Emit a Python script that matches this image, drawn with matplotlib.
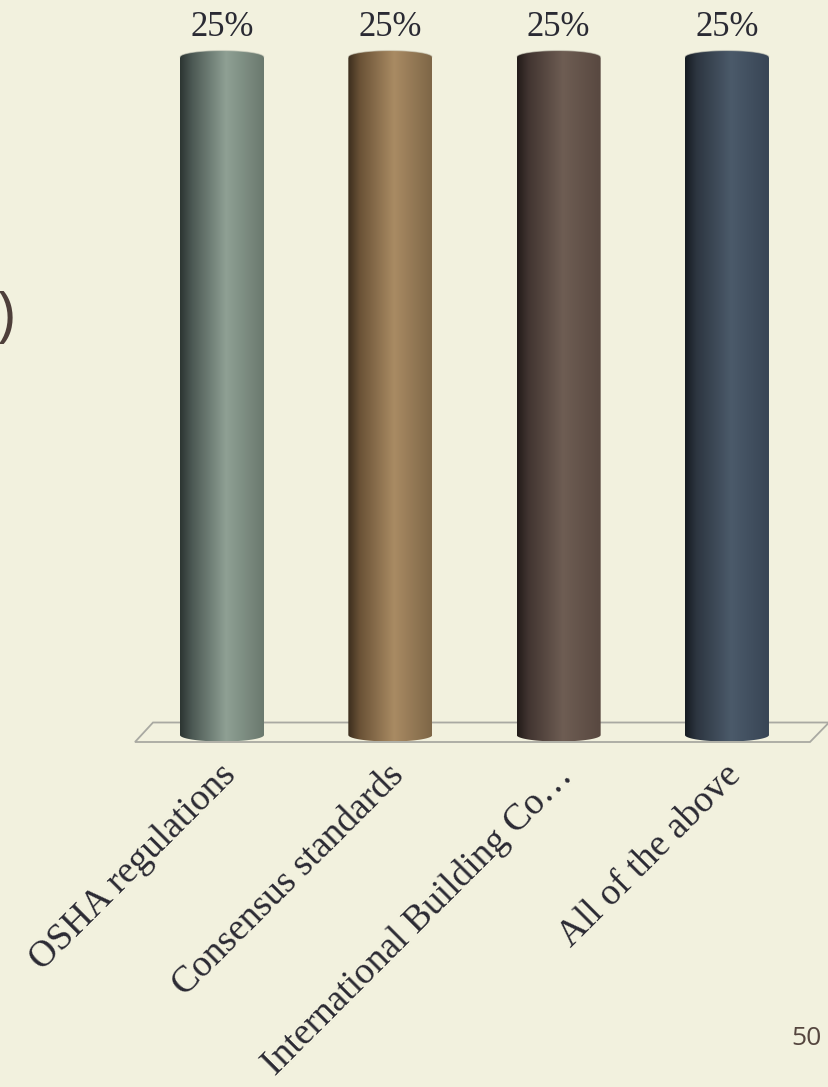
import numpy as np
import matplotlib
matplotlib.use("Agg")
import matplotlib.pyplot as plt
from matplotlib.path import Path
from matplotlib.patches import PathPatch, Polygon
from matplotlib.colors import LinearSegmentedColormap

# ---- data ----
categories = ["OSHA regulations", "Consensus standards",
              "International Building Co…", "All of the above"]
values = [25, 25, 25, 25]
value_labels = ["25%", "25%", "25%", "25%"]
bar_colors = [
    ["#2c3532", "#4b5853", "#8fa094", "#6a796e"],
    ["#3b2d1e", "#6a5236", "#a98b63", "#7e6647"],
    ["#221b19", "#423531", "#6e5d53", "#584840"],
    ["#161b21", "#2d3641", "#4b5a6a", "#384555"],
]
page_number = "50"

BG = "#f2f1de"
W, H = 829, 1087

# pixel <-> data helpers (layout only)
X0, DX = 222.0, 168.33
Y0, K = 735.0, (735.0 - 57.0) / 25.0


def px2x(px):
    return (px - X0) / DX


def px2y(py):
    return (Y0 - py) / K


fig = plt.figure(figsize=(W / 100, H / 100), dpi=100, facecolor=BG)
ax = fig.add_axes([0, 0, 1, 1])
ax.set_facecolor(BG)
ax.axis("off")
ax.set_xlim(px2x(0), px2x(W))
ax.set_ylim(px2y(H), px2y(0))

# floor parallelogram
floor = Polygon([(px2x(135), px2y(742)), (px2x(810), px2y(742)),
                 (px2x(829), px2y(722.5)), (px2x(153), px2y(722.5))],
                closed=True, facecolor="none", edgecolor="#a9a9a2", lw=1.3, zorder=1)
ax.add_patch(floor)

half_w = 42.0 / DX
eh = 6.5 / K
grad = np.linspace(0, 1, 256).reshape(1, -1)

for i, (v, cols) in enumerate(zip(values, bar_colors)):
    cmap = LinearSegmentedColormap.from_list(
        f"c{i}", list(zip([0.0, 0.14, 0.55, 1.0], cols)))
    xl, xr = i - half_w, i + half_w
    t1 = np.linspace(np.pi, 2 * np.pi, 60)  # bottom half
    t2 = np.linspace(0, np.pi, 60)  # top half
    bx = i + half_w * np.cos(t1)
    by = 0 + eh * np.sin(t1)
    tx = i + half_w * np.cos(t2)
    ty = v + eh * np.sin(t2)
    verts = np.concatenate([
        [[xl, v]],
        np.column_stack([bx, by]),
        [[xr, v]],
        np.column_stack([tx, ty]),
        [[xl, v]],
    ])
    codes = [Path.MOVETO] + [Path.LINETO] * (len(verts) - 2) + [Path.CLOSEPOLY]
    path = Path(verts, codes)
    patch = PathPatch(path, transform=ax.transData, facecolor="none",
                      edgecolor="none", zorder=2)
    ax.add_patch(patch)
    im = ax.imshow(grad, cmap=cmap, aspect="auto",
                   extent=[xl, xr, -eh, v + eh], zorder=2,
                   interpolation="bicubic")
    im.set_clip_path(patch)
    # subtle highlight on cap rim
    ax.plot(tx, ty, color="#d8d8c8", lw=0.8, alpha=0.6, zorder=3)

    ax.annotate(value_labels[i], xy=(i, v), xytext=(0, 15),
                textcoords="offset points", ha="center", va="baseline",
                fontsize=25, family="Liberation Serif", color="#2a2a33")

    ax.text(i + px2x(X0 + 21) - px2x(X0), px2y(758), categories[i],
            rotation=45, ha="right", va="top", fontsize=27,
            family="Liberation Serif", color="#2b2a33")

ax.set_xlim(px2x(0), px2x(W))
ax.set_ylim(px2y(H), px2y(0))

# remnant of slide title (cut at the edge, as in the reference) and page number
fig.text(14 / W, 1 - 318 / H, ")", ha="right", va="center", fontsize=44,
         family="Open Sans", color="#4e3f3a")
fig.text(822 / W, 1 - 1045 / H, page_number, ha="right", va="baseline",
         fontsize=19, family="Open Sans", color="#55463f")

fig.savefig("out.png", dpi=100, facecolor=BG)
